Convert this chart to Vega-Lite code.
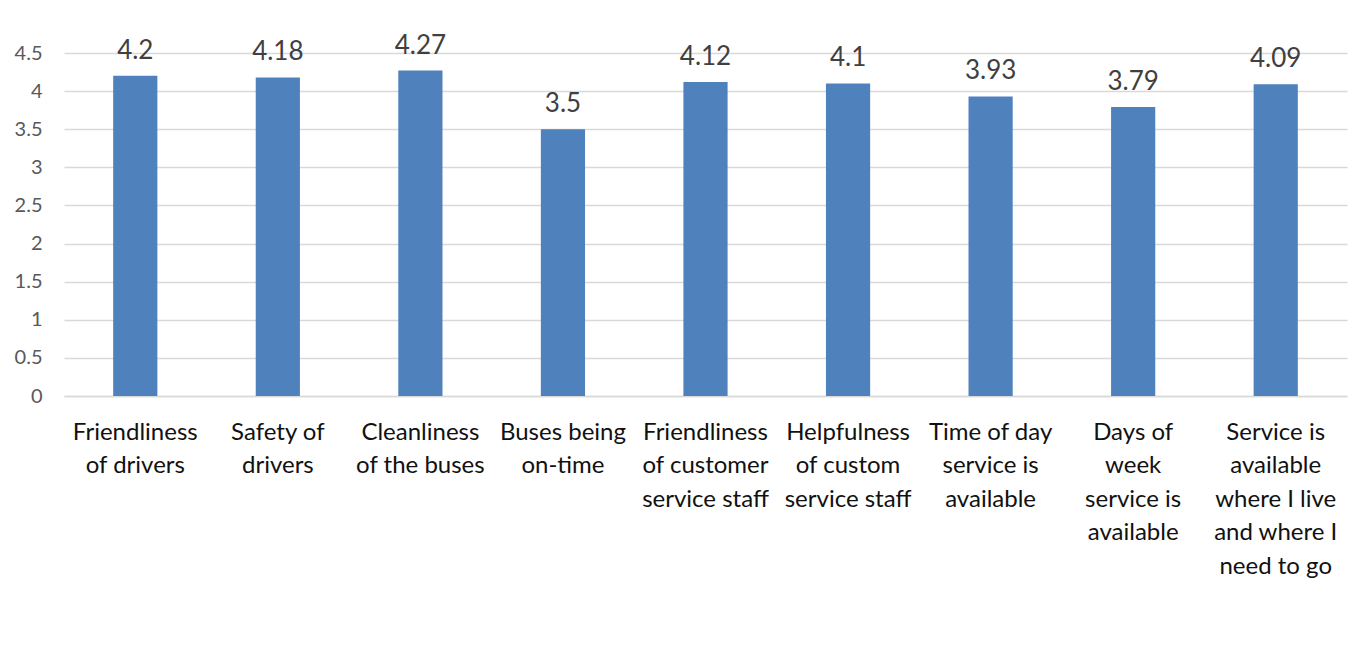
{
  "$schema": "https://vega.github.io/schema/vega-lite/v6.json",
  "autosize": "none",
  "width": 1283,
  "height": 343,
  "padding": {"left": 64, "top": 53, "right": 9, "bottom": 257},
  "background": "white",
  "config": {"view": {"stroke": null}},
  "data": {
    "values": [
      {"item": "Friendliness of drivers", "score": 4.2},
      {"item": "Safety of drivers", "score": 4.18},
      {"item": "Cleanliness of the buses", "score": 4.27},
      {"item": "Buses being on-time", "score": 3.5},
      {"item": "Friendliness of customer service staff", "score": 4.12},
      {"item": "Helpfulness of custom service staff", "score": 4.1},
      {"item": "Time of day service is available", "score": 3.93},
      {"item": "Days of week service is available", "score": 3.79},
      {"item": "Service is available where I live and where I need to go", "score": 4.09}
    ]
  },
  "encoding": {
    "x": {
      "field": "item",
      "type": "nominal",
      "sort": null,
      "scale": {"paddingInner": 0.69, "paddingOuter": 0.345},
      "axis": {
        "title": null,
        "labelAngle": 0,
        "ticks": false,
        "domain": true,
        "domainColor": "#d9d9d9",
        "domainWidth": 1.5,
        "labelFont": "Lato",
        "labelFontSize": 24,
        "labelColor": "#111111",
        "labelPadding": 24,
        "labelBaseline": "top",
        "labelLineHeight": 33.5,
        "labelLimit": 0,
        "labelExpr": "{'Friendliness of drivers': ['Friendliness','of drivers'], 'Safety of drivers': ['Safety of','drivers'], 'Cleanliness of the buses': ['Cleanliness','of the buses'], 'Buses being on-time': ['Buses being','on-time'], 'Friendliness of customer service staff': ['Friendliness','of customer','service staff'], 'Helpfulness of custom service staff': ['Helpfulness','of custom','service staff'], 'Time of day service is available': ['Time of day','service is','available'], 'Days of week service is available': ['Days of','week','service is','available'], 'Service is available where I live and where I need to go': ['Service is','available','where I live','and where I','need to go']}[datum.value]"
      }
    },
    "y": {
      "field": "score",
      "type": "quantitative",
      "scale": {"domain": [0, 4.5], "nice": false},
      "axis": {
        "title": null,
        "values": [0, 0.5, 1, 1.5, 2, 2.5, 3, 3.5, 4, 4.5],
        "format": "~g",
        "ticks": false,
        "domain": false,
        "gridColor": "#d9d9d9",
        "gridWidth": 1.5,
        "labelFont": "Lato",
        "labelFontSize": 20,
        "labelColor": "#595959",
        "labelPadding": 22
      }
    }
  },
  "layer": [
    {"mark": {"type": "bar", "color": "#4F81BD"}},
    {
      "mark": {"type": "text", "dy": -17, "baseline": "alphabetic", "font": "Lato", "fontSize": 26, "color": "#404040", "clip": false},
      "encoding": {"text": {"field": "score", "type": "quantitative"}}
    }
  ]
}
